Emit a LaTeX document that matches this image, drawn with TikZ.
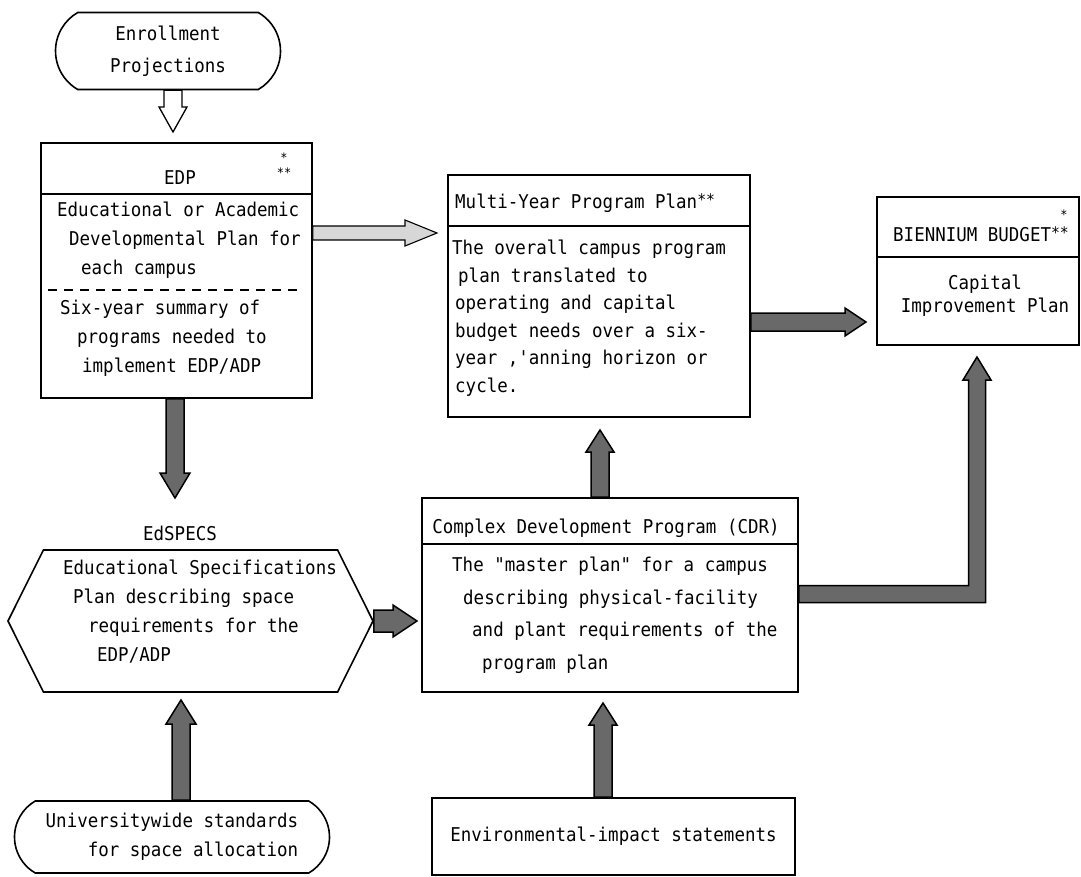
\documentclass[tikz,border=0pt]{standalone}
\usepackage{fontspec}
\newfontfamily\typew[FakeStretch=0.92]{DejaVu Sans Mono}
\usepackage{tikz}
\usetikzlibrary{
    positioning,
    calc,
    shapes.misc,
    shapes.symbols
}
\definecolor{stipple}{RGB}{105, 105, 105}
\definecolor{stippleLight}{RGB}{215, 215, 215}

\tikzset{
    boxline/.style={line width=1.6pt},
    box/.style={draw, boxline, inner sep=0pt},
    pill/.style={draw, boxline, rounded rectangle, rounded rectangle arc length=120,
        inner sep=0pt, align=center, font=\typew\fontsize{19}{32}\selectfont},
    txt/.style={inner sep=0pt, align=left, font=\typew\fontsize{19}{29}\selectfont},
    star/.style={inner sep=0pt, align=center, font=\typew\fontsize{13}{15}\selectfont},
    darkarrow/.style={draw, line width=1.5pt, fill=stipple},
    lightarrow/.style={draw, line width=1.1pt, fill=stippleLight},
    hollowarrow/.style={draw, line width=1.3pt, fill=white}
}

% [style]{from}{to}{shaft half width}{head half width}{head length}
\newcommand{\fatarrow}[6][darkarrow]{%
    \coordinate (fa-hb) at ($(#3)!#6!(#2)$);
    \path[#1] ($(#2)!#4!90:(#3)$) -- ($(fa-hb)!#4!90:(#3)$) -- ($(fa-hb)!#5!90:(#3)$)
        -- (#3) -- ($(fa-hb)!#5!-90:(#3)$) -- ($(fa-hb)!#4!-90:(#3)$)
        -- ($(#2)!#4!-90:(#3)$) -- cycle;
}

\begin{document}
\begin{tikzpicture}[x=1pt, y=-1pt]
    \useasboundingbox (0,0) rectangle (1081,877);

    % left column
    \node[pill, minimum width=225, minimum height=77] (enroll) at (168,51) {Enrollment\\Projections};

    \node[box, minimum width=271, minimum height=255] (edp) at (176.5,270.5) {};
    \node[txt] (edp-title) at (180,178) {EDP};
    \node[star] (edp-star) at (284,165) {*\\**};
    \draw[boxline] ([yshift=-52pt]edp.north west) -- ([yshift=-52pt]edp.north east);
    \node[txt, anchor=north west] (edp-plan) at (57,202)
        {Educational or Academic\\\hspace*{12pt}Developmental Plan for\\\hspace*{24pt}each campus};
    \draw[boxline, line width=1.2pt, dash pattern=on 9pt off 7pt] (48,290) -- (298,290);
    \node[txt, anchor=north west] (edp-sum) at (60,300)
        {Six-year summary of\\\hspace*{17pt}programs needed to\\\hspace*{22pt}implement EDP/ADP};

    \node[txt] (spec-title) at (180,533) {EdSPECS};
    \node[draw, boxline, signal, signal to=west and east, signal pointer angle=127,
        minimum width=365, minimum height=142, inner sep=0pt] (spec) at (190.5,621) {};
    \node[txt, anchor=north west] (spec-text) at (63,560)
        {Educational Specifications\\\hspace*{10pt}Plan describing space\\\hspace*{25pt}requirements for the\\\hspace*{34pt}EDP/ADP};

    \node[pill, align=right, minimum width=315, minimum height=72, font=\typew\fontsize{19}{29}\selectfont]
        (univ) at (172,837) {Universitywide standards\\for space allocation};

    % middle column
    \node[box, minimum width=302, minimum height=242] (mypp) at (599,296) {};
    \node[txt, anchor=west] (mypp-title) at (455,203)
        {Multi-Year Program Plan\raisebox{3pt}{\fontsize{16}{16}\selectfont**}};
    \draw[boxline] ([yshift=-52pt]mypp.north west) -- ([yshift=-52pt]mypp.north east);
    \node[txt, anchor=north west, font=\typew\fontsize{19}{27.5}\selectfont] (mypp-text) at (452,240)
        {The overall campus program\\\hspace*{6pt}plan translated to\\\hspace*{3pt}operating and capital\\\hspace*{3pt}budget needs over a six-\\\hspace*{3pt}year ,'anning horizon or\\\hspace*{3pt}cycle.};

    \node[box, minimum width=376, minimum height=194] (cdp) at (610,595) {};
    \node[txt] (cdp-title) at (606,528) {Complex Development Program (CDR)};
    \draw[boxline] ([yshift=-47pt]cdp.north west) -- ([yshift=-47pt]cdp.north east);
    \node[txt, anchor=north west, font=\typew\fontsize{19}{32.5}\selectfont] (cdp-text) at (452,557)
        {The "master plan" for a campus\\\hspace*{11pt}describing physical-facility\\\hspace*{20pt}and plant requirements of the\\\hspace*{30pt}program plan};

    \node[box, minimum width=363, minimum height=77, font=\typew\fontsize{19}{29}\selectfont]
        (env) at (613.5,836.5) {Environmental-impact statements};

    % right column
    \node[box, minimum width=202, minimum height=148] (bud) at (978,271) {};
    \node[txt, anchor=west] (bud-title) at (893,234)
        {BIENNIUM BUDGET\raisebox{3pt}{\fontsize{16}{16}\selectfont**}};
    \node[star] (bud-star) at (1064,215) {*};
    \draw[boxline] ([yshift=-61pt]bud.north west) -- ([yshift=-61pt]bud.north east);
    \node[txt, align=center, font=\typew\fontsize{19}{23}\selectfont] (bud-text) at (985,296)
        {Capital\\Improvement Plan};

    % arrow tips
    \coordinate (enroll-tip) at (173,132);
    \coordinate (edp-tip) at (175,498);
    \coordinate (mypp-in) at (437,233);
    \coordinate (bud-in) at (866,322);
    \coordinate (mypp-up) at (600,430);
    \coordinate (cdp-up) at (603,703);
    \coordinate (spec-up) at (181,700);
    \coordinate (cdp-in) at (417,621);
    \coordinate (bend) at (977,594);
    \coordinate (bud-up) at (977,357);

    % arrows
    \fatarrow[hollowarrow]{enroll.south -| enroll-tip}{enroll-tip}{9pt}{14pt}{25pt}
    \fatarrow{edp.south -| edp-tip}{edp-tip}{9pt}{15pt}{25pt}
    \fatarrow[lightarrow]{edp.east |- mypp-in}{mypp-in}{7pt}{13pt}{32pt}
    \fatarrow{mypp.east |- bud-in}{bud-in}{9pt}{14pt}{21pt}
    \fatarrow{cdp.north -| mypp-up}{mypp-up}{9pt}{14pt}{22pt}
    \fatarrow{env.north -| cdp-up}{cdp-up}{9pt}{14pt}{22pt}
    \fatarrow{univ.north -| spec-up}{spec-up}{9pt}{15pt}{24pt}
    \fatarrow{spec.east}{cdp-in}{11pt}{16pt}{24pt}
    \path[darkarrow] (cdp.east |- 0,585.5) -- ($(bend)+(-8.5,-8.5)$) -- ($(bud-up)+(-8.5,23)$)
        -- ($(bud-up)+(-14,23)$) -- (bud-up) -- ($(bud-up)+(14,23)$) -- ($(bud-up)+(8.5,23)$)
        -- ($(bend)+(8.5,8.5)$) -- (cdp.east |- 0,602.5) -- cycle;
\end{tikzpicture}
\end{document}
